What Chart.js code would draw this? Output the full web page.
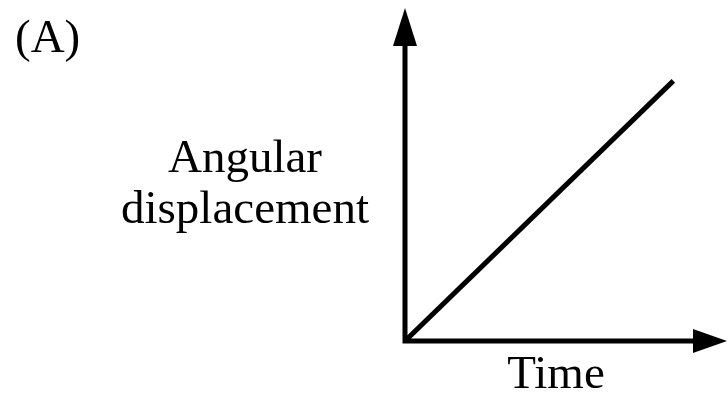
<!DOCTYPE html>
<html>
<head>
<meta charset="utf-8">
<script src="https://cdn.jsdelivr.net/npm/chart.js@4/dist/chart.umd.min.js"></script>
<style>
    html, body { margin: 0; padding: 0; background: #fff; }
    canvas { display: block; }
</style>
</head>
<body>
<canvas id="motion-chart" width="728" height="403"></canvas>
<script>
const timeValues = [0, 10];
const displacementValues = [0, 10];
const panelLabel = "(A)";
const yAxisLabel = ["Angular", "displacement"];
const xAxisLabel = "Time";

const serifFont = "47px 'Liberation Serif', 'Times New Roman', serif";

// axes with arrow heads + the free text labels
const arrowAxes = {
    id: "arrowAxes",
    afterDatasetsDraw(chart) {
        const ctx = chart.ctx;
        const x = chart.scales.x;
        const y = chart.scales.y;
        const ox = x.getPixelForValue(0);
        const oy = y.getPixelForValue(0);
        const xEnd = x.right;
        const yEnd = y.top;

        ctx.save();
        ctx.strokeStyle = "#000";
        ctx.fillStyle = "#000";
        ctx.lineWidth = 5;
        ctx.lineCap = "butt";

        ctx.beginPath();
        ctx.moveTo(ox, oy + 2.5);
        ctx.lineTo(ox, yEnd + 30);
        ctx.moveTo(ox - 2.5, oy);
        ctx.lineTo(xEnd - 30, oy);
        ctx.stroke();

        // y arrow
        ctx.beginPath();
        ctx.moveTo(ox, yEnd);
        ctx.lineTo(ox - 12, yEnd + 38);
        ctx.lineTo(ox + 12, yEnd + 38);
        ctx.closePath();
        ctx.fill();

        // x arrow
        ctx.beginPath();
        ctx.moveTo(xEnd, oy);
        ctx.lineTo(xEnd - 34, oy - 12);
        ctx.lineTo(xEnd - 34, oy + 12);
        ctx.closePath();
        ctx.fill();

        ctx.font = serifFont;
        ctx.textBaseline = "alphabetic";
        ctx.textAlign = "left";
        ctx.fillText(panelLabel, 15, 52);
        ctx.textAlign = "center";
        ctx.fillText(yAxisLabel[0], 245, 172);
        ctx.fillText(yAxisLabel[1], 245, 223);
        ctx.fillText(xAxisLabel, 556, 388);
        ctx.restore();
    },
};

const motionData = {
    datasets: [
        {
            label: "Angular displacement",
            data: timeValues.map((t, i) => ({ x: t, y: displacementValues[i] })),
            borderColor: "#000",
            borderWidth: 5,
            pointRadius: 0,
            fill: false,
            tension: 0,
        },
    ],
};

const motionConfig = {
    type: "line",
    data: motionData,
    options: {
        responsive: false,
        animation: false,
        layout: { padding: { left: 405, right: 1, top: 8, bottom: 62 } },
        plugins: {
            legend: { display: false },
            tooltip: { enabled: false },
        },
        scales: {
            x: { type: "linear", min: 0, max: 12, display: false },
            y: { type: "linear", min: 0, max: 12.8, display: false },
        },
    },
    plugins: [arrowAxes],
};

const motionChart = new Chart(
    document.getElementById("motion-chart"),
    motionConfig
);
</script>
</body>
</html>
